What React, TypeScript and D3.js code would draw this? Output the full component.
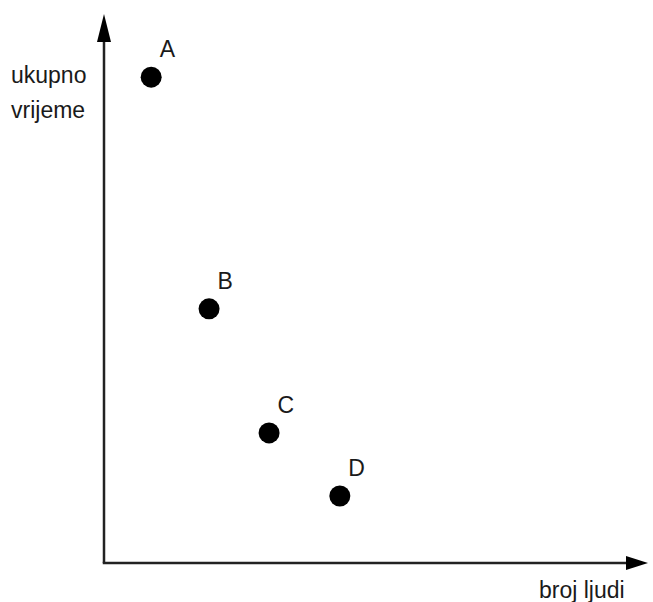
import React from "react";
import * as d3 from "d3";

const labels = ["A", "B", "C", "D"];
const xValues = [8.8, 19.6, 30.8, 44.0];
const yValues = [88.5, 46.3, 23.7, 12.2];
const xAxisLabel = "broj ljudi";
const yAxisLabel = ["ukupno", "vrijeme"];

const W = 653;
const H = 602;

export default function App() {
  const x = d3.scaleLinear().domain([0, 100]).range([104, 640]);
  const y = d3.scaleLinear().domain([0, 100]).range([563, 14]);
  const x0 = x(0);
  const y0 = y(0);
  const axisColor = "#222";
  const fs = 23;
  return (
    <svg
      width={W}
      height={H}
      style={{ position: "absolute", left: 0, top: 0, background: "#fff" }}
      fontFamily="'Liberation Sans', Arial, sans-serif"
    >
      {/* y axis */}
      <line x1={x0} y1={y0} x2={x0} y2={y(100) + 24} stroke={axisColor} strokeWidth={2.5} />
      <path
        d={`M${x0},${y(100)} L${x0 - 7},${y(100) + 28} L${x0 + 7},${y(100) + 28} Z`}
        fill="#000"
      />
      {/* x axis */}
      <line x1={x0 - 1.25} y1={y0} x2={x(100) - 10} y2={y0} stroke={axisColor} strokeWidth={2.5} />
      <path
        d={`M${x(100) + 8},${y0} L${x(100) - 14},${y0 - 7} L${x(100) - 14},${y0 + 7} Z`}
        fill="#000"
      />
      {xValues.map((v, i) => (
        <g key={labels[i]}>
          <circle cx={x(v)} cy={y(yValues[i])} r={10.5} fill="#000" />
          <text x={x(v) + 8.5} y={y(yValues[i]) - 20} fontSize={fs} fill="#1a1a1a">
            {labels[i]}
          </text>
        </g>
      ))}
      <text x={11} y={83} fontSize={fs} fill="#1a1a1a">{yAxisLabel[0]}</text>
      <text x={11} y={118} fontSize={fs} fill="#1a1a1a">{yAxisLabel[1]}</text>
      <text x={539} y={598} fontSize={fs} fill="#1a1a1a">{xAxisLabel}</text>
    </svg>
  );
}
